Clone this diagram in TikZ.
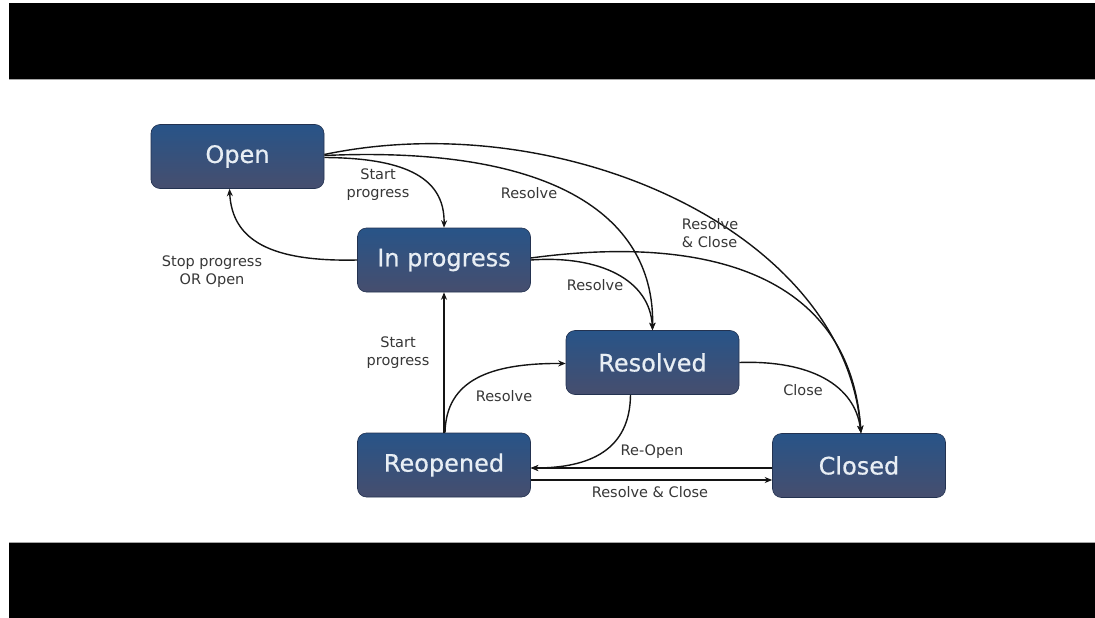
\documentclass[tikz,border=0pt]{standalone}
\usepackage{fontspec}
\setmainfont{DejaVu Sans}
\newfontfamily\boxfont{DejaVu Sans}[FakeBold=0.6]
\usetikzlibrary{arrows.meta}
\definecolor{boxtop}{RGB}{40,84,136}
\definecolor{boxbot}{RGB}{70,78,110}
\definecolor{boxedge}{RGB}{35,50,80}
\definecolor{boxtext}{RGB}{232,238,244}
\definecolor{lbl}{RGB}{55,55,55}
\definecolor{ln}{RGB}{20,20,20}
\tikzset{
  state/.style={rectangle, rounded corners=9pt, minimum width=173pt, minimum height=64pt,
    inner sep=0pt, top color=boxtop, bottom color=boxbot, draw=boxedge, line width=0.6pt,
    text=boxtext, font=\boxfont\fontsize{24}{28}\selectfont},
  lab/.style={text=lbl, font=\fontsize{14.5}{18}\selectfont, align=center, inner sep=1pt},
  conn/.style={draw=ln, line width=1.4pt},
  arr/.style={conn, -{Stealth[length=7.5pt,width=6pt]}},
}
\begin{document}
\begin{tikzpicture}[x=1pt,y=-1pt]
\useasboundingbox (0,0) rectangle (1095,618);
\fill[white] (0,0) rectangle (1095,618);
\fill[black] (9,3) rectangle (1095,79);
\fill[black] (9,543) rectangle (1095,618);
\draw[gray!70, line width=0.8pt] (9,79.5) -- (1095,79.5);
\draw[gray!70, line width=0.8pt] (9,542.5) -- (1095,542.5);

\node[state] (open) at (237.5,156.5) {Open};
\node[state] (prog) at (444,260) {In progress};
\node[state] (res)  at (652.5,362.5) {Resolved};
\node[state] (reop) at (444,465) {Reopened};
\node[state] (clo)  at (859,465.5) {Closed};

% Open -> In progress
\draw[arr] ([yshift=-1pt]open.east) .. controls (400,158) and (445,175) .. (prog.north);
% Open -> Resolved
\draw[arr] ([yshift=1pt]open.east) .. controls (560,145) and (655,220) .. (res.north);
% Open -> Closed
\draw[arr] ([yshift=2pt]open.east) .. controls (560,105) and (845,230) .. ([xshift=2pt]clo.north);
% In progress -> Open
\draw[arr] (prog.west) .. controls (270,262) and (232,240) .. ([xshift=-8pt]open.south);
% In progress -> Resolved
\draw[arr] (prog.east) .. controls (600,255) and (650,280) .. (res.north);
% In progress -> Closed
\draw[arr] ([yshift=2pt]prog.east) .. controls (700,235) and (850,270) .. ([xshift=2pt]clo.north);
% Resolved -> Closed
\draw[arr] (res.east) .. controls (810,360) and (855,385) .. ([xshift=2pt]clo.north);
% Reopened -> In progress
\draw[arr] (reop.north) -- (prog.south);
% Reopened -> Resolved
\draw[arr] ([xshift=1pt]reop.north) .. controls (446,380) and (490,363) .. ([yshift=-1pt]res.west);
% Resolved -> Reopened
\draw[arr] ([xshift=-22pt]res.south) .. controls (630,450) and (590,468) .. ([yshift=-3pt]reop.east);
% Closed -> Reopened
\draw[arr] ([yshift=-2.5pt]clo.west) -- ([yshift=-3pt]reop.east);
% Reopened -> Closed
\draw[arr] ([yshift=-15pt]reop.east) -- ([yshift=-14.5pt]clo.west);

\node[lab] (l1) at (378,185) {Start\\progress};
\node[lab] (l2) at (529,193) {Resolve};
\node[lab, align=left] (l3) at (710,233) {Resolve\\\& Close};
\node[lab] (l4) at (595,285) {Resolve};
\node[lab] (l5) at (212,272) {Stop progress\\OR Open};
\node[lab] (l6) at (398,353) {Start\\progress};
\node[lab] (l7) at (504,396) {Resolve};
\node[lab] (l8) at (652,452) {Re-Open};
\node[lab] (l9) at (650,492) {Resolve \& Close};
\node[lab] (l10) at (803,390) {Close};
\end{tikzpicture}
\end{document}
